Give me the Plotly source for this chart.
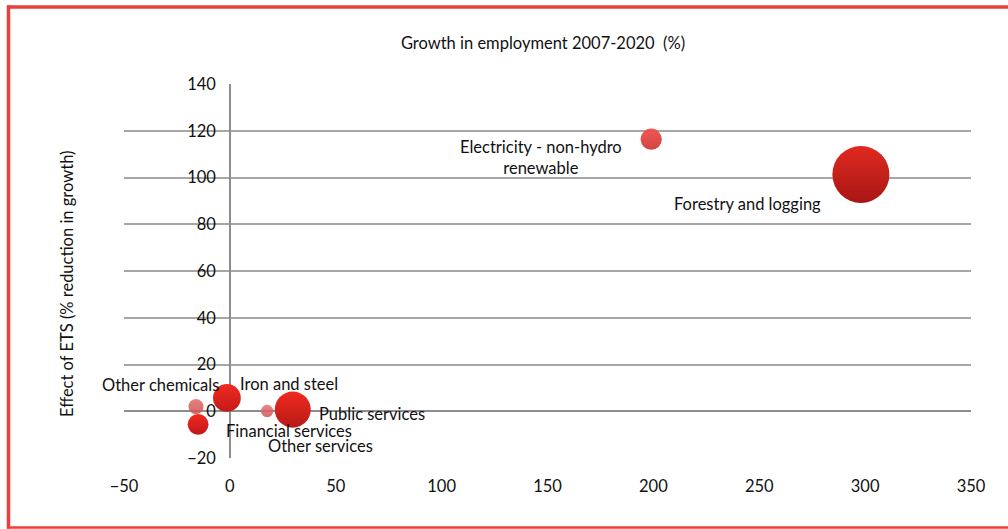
import plotly.graph_objects as go

# Sector data: growth in employment 2007-2020 (%) vs. effect of ETS (% reduction in growth)
sectors = [
    "Electricity - non-hydro<br>renewable",
    "Forestry and logging",
    "Iron and steel",
    "Other chemicals",
    "Financial services",
    "Other services",
    "Public services",
]
growth = [199, 298, -1.4, -16, -15, 17.6, 29.7]
ets_effect = [116.4, 101.3, 5.7, 2.0, -5.6, 0.1, 0.7]
# relative employment weight (bubble area)
weight = [1.1, 8.0, 1.9, 0.56, 1.07, 0.38, 3.2]

# bubble fill: top colour, bottom colour, opacity
top_col = ["#f0504a", "#e02a20", "#f02a20", "#e46a6a", "#f02a20", "#e87070", "#ef2a20"]
bot_col = ["#cf3a38", "#a81614", "#c41a18", "#cc4e4e", "#c01818", "#cc5656", "#b81a16"]
alpha = [0.95, 1.0, 1.0, 0.85, 1.0, 0.85, 1.0]

# label offsets (px) relative to each bubble
dx = [-110, -113, 62, -36, 91, 53, 79]
dy = [-18, -30, 14, 22, -7, -35, -4]

x_ticks = [-50, 0, 50, 100, 150, 200, 250, 300, 350]
y_ticks = [-20, 0, 20, 40, 60, 80, 100, 120, 140]

FONT = "Lato, 'Open Sans', sans-serif"
FS = 16.5
max_d = 57

fig = go.Figure()
fig.add_trace(go.Scatter(
    x=growth, y=ets_effect, mode="markers",
    marker=dict(
        size=weight, sizemode="area",
        sizeref=2.0 * max(weight) / max_d ** 2,
        color=top_col, opacity=alpha,
        gradient=dict(type="vertical", color=bot_col),
        line=dict(width=0),
    ),
    hovertext=sectors, hoverinfo="text+x+y",
    showlegend=False,
))

for name, gx, gy, ox, oy in zip(sectors, growth, ets_effect, dx, dy):
    fig.add_annotation(x=gx, y=gy, text=name, showarrow=False,
                       xshift=ox, yshift=oy, align="center",
                       font=dict(family=FONT, size=FS, color="#111111"))

L, R, T, B = 124, 37, 84, 71
W, H = 1008, 529
pw, ph = W - L - R, H - T - B

def px(xp):
    return (xp - L) / pw

def py(yp):
    return (H - B - yp) / ph

frame = dict(color="#e8403a")

fig.update_layout(
    width=W, height=H,
    margin=dict(l=L, r=R, t=T, b=B),
    paper_bgcolor="white", plot_bgcolor="white",
    font=dict(family=FONT, size=FS, color="#111111"),
    title=dict(text="Growth in employment 2007-2020  (%)",
               xref="container", yref="container",
               x=543 / W, xanchor="center", y=1 - 43 / H, yanchor="middle",
               font=dict(family=FONT, size=FS, color="#111111")),
    xaxis=dict(
        range=[-50, 350], tickvals=x_ticks, ticks="", showgrid=False,
        zeroline=True, zerolinecolor="#8e8e8e", zerolinewidth=2,
        showline=False, ticklabelstandoff=16,
        tickfont=dict(family=FONT, size=FS, color="#111111"),
        fixedrange=True,
    ),
    yaxis=dict(
        range=[-20, 140], tickvals=y_ticks, ticks="",
        showgrid=True, gridcolor="#a6a6a6", gridwidth=1.5,
        zeroline=True, zerolinecolor="#8e8e8e", zerolinewidth=2,
        showline=False, anchor="free", position=0.125,
        ticklabelstandoff=14,
        tickfont=dict(family=FONT, size=FS, color="#111111"),
        fixedrange=True,
    ),
    shapes=[
        # red frame: top, left and bottom edges
        dict(type="line", xref="paper", yref="paper",
             x0=px(7), x1=px(1008), y0=py(7), y1=py(7),
             line=dict(width=3.5, **frame), layer="above"),
        dict(type="line", xref="paper", yref="paper",
             x0=px(8.5), x1=px(8.5), y0=py(5.5), y1=py(528.5),
             line=dict(width=3.5, **frame), layer="above"),
        dict(type="line", xref="paper", yref="paper",
             x0=px(7), x1=px(1008), y0=py(527.5), y1=py(527.5),
             line=dict(width=2.5, **frame), layer="above"),
    ],
)

fig.add_annotation(xref="paper", yref="paper", x=px(67), y=py(284),
                   text="Effect of ETS (% reduction in growth)", textangle=-90,
                   showarrow=False, xanchor="center", yanchor="middle",
                   font=dict(family=FONT, size=FS, color="#111111"))

fig.write_html("out.html")
